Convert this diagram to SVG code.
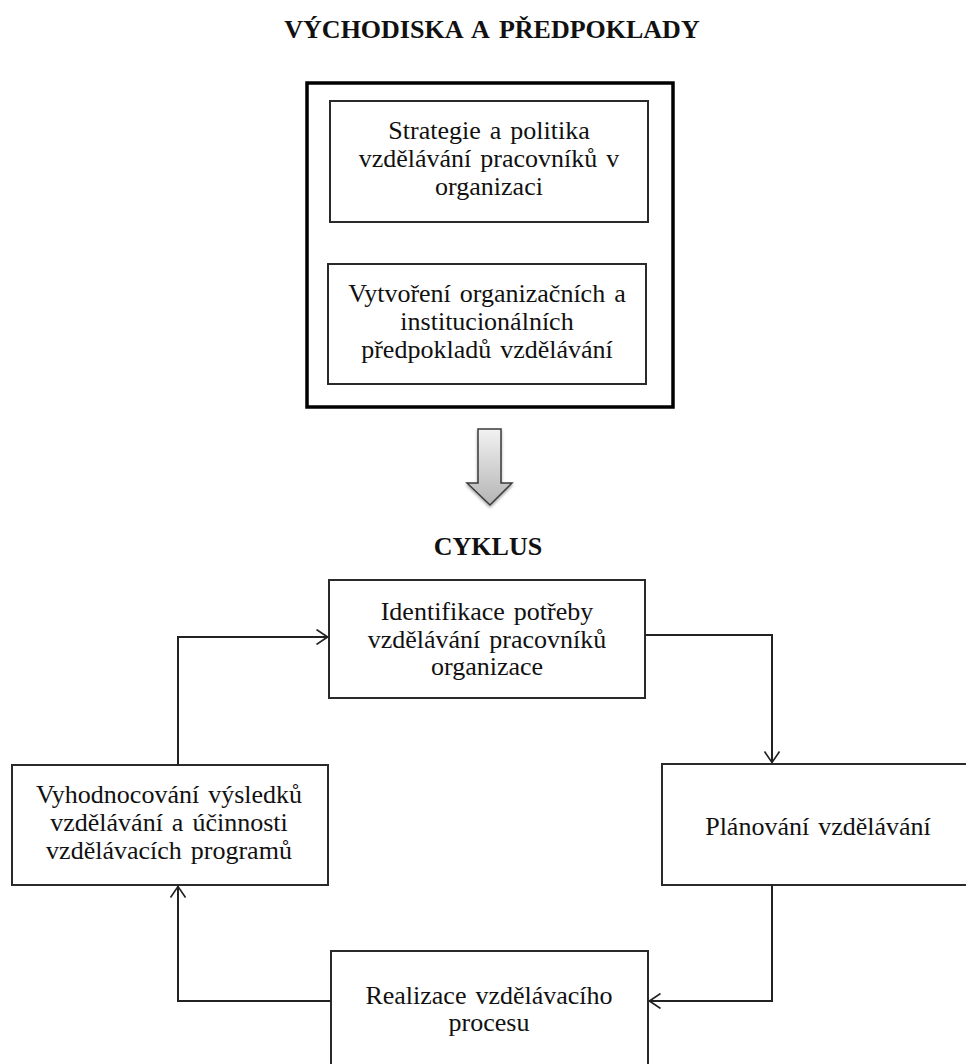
<svg xmlns="http://www.w3.org/2000/svg" width="966" height="1064" viewBox="0 0 966 1064">
  <style>
    .t { font-family: "Liberation Serif", "Times New Roman", serif; font-size: 26px; word-spacing: 2.5px; fill: #111; text-anchor: middle; }
    .h { font-family: "Liberation Serif", "Times New Roman", serif; font-size: 26px; word-spacing: 4px; font-weight: bold; fill: #111; text-anchor: middle; }
    .box { fill: #fff; stroke: #2a2a2a; stroke-width: 2; }
    .frame { fill: #fff; stroke: #000; stroke-width: 3.5; }
    .link { fill: none; stroke: #222; stroke-width: 2; marker-end: url(#open); }
  </style>
  <defs>
    <marker id="open" viewBox="0 0 12 16" refX="12" refY="8" markerWidth="12" markerHeight="16" markerUnits="userSpaceOnUse" orient="auto">
      <path d="M0.5,0.5 L11.5,8 L0.5,15.5" fill="none" stroke="#222" stroke-width="1.6"/>
    </marker>
    <linearGradient id="arrowFill" x1="0" y1="0" x2="0" y2="1">
      <stop offset="0" stop-color="#f2f2f2"/>
      <stop offset="1" stop-color="#b4b4b4"/>
    </linearGradient>
    <filter id="soft" x="-30%" y="-30%" width="160%" height="160%">
      <feGaussianBlur in="SourceAlpha" stdDeviation="1.5"/>
      <feOffset dx="0" dy="2" result="b"/>
      <feComponentTransfer><feFuncA type="linear" slope="0.35"/></feComponentTransfer>
      <feMerge><feMergeNode/><feMergeNode in="SourceGraphic"/></feMerge>
    </filter>
  </defs>

  <rect width="966" height="1064" fill="#fff"/>

  <!-- heading of the upper section -->
  <text class="h" x="492" y="38">VÝCHODISKA A PŘEDPOKLADY</text>

  <!-- frame holding the preconditions -->
  <g id="preconditions">
    <rect class="frame" x="307" y="83" width="366" height="324"/>
  </g>
  <g id="strategy">
    <rect class="box" x="330" y="101" width="318" height="121"/>
    <text class="t" x="489" y="139">Strategie a politika</text>
    <text class="t" x="489" y="167">vzdělávání pracovníků v</text>
    <text class="t" x="489" y="195">organizaci</text>
  </g>
  <g id="institutions">
    <rect class="box" x="328" y="264" width="318" height="120"/>
    <text class="t" x="487" y="302">Vytvoření organizačních a</text>
    <text class="t" x="487" y="330">institucionálních</text>
    <text class="t" x="487" y="358">předpokladů vzdělávání</text>
  </g>

  <!-- block arrow down to the cycle -->
  <g id="transition">
    <polygon points="478,429 501,429 501,483 512,483 490,505 467,483 478,483" fill="url(#arrowFill)" stroke="#3a3a3a" stroke-width="1.5" stroke-linejoin="miter" filter="url(#soft)"/>
  </g>

  <text class="h" x="488" y="555">CYKLUS</text>

  <!-- cycle steps -->
  <g id="identification">
    <rect class="box" x="329" y="580" width="316" height="118"/>
    <text class="t" x="487" y="620">Identifikace potřeby</text>
    <text class="t" x="487" y="647.5">vzdělávání pracovníků</text>
    <text class="t" x="487" y="675">organizace</text>
  </g>
  <g id="evaluation">
    <rect class="box" x="12" y="765" width="316" height="120"/>
    <text class="t" x="169" y="803">Vyhodnocování výsledků</text>
    <text class="t" x="169" y="831">vzdělávání a účinnosti</text>
    <text class="t" x="169" y="859">vzdělávacích programů</text>
  </g>
  <g id="planning">
    <rect class="box" x="662" y="764" width="320" height="121"/>
    <text class="t" x="818" y="835">Plánování vzdělávání</text>
  </g>
  <g id="delivery">
    <rect class="box" x="331" y="951" width="317" height="130"/>
    <text class="t" x="489" y="1004">Realizace vzdělávacího</text>
    <text class="t" x="489" y="1031">procesu</text>
  </g>

  <!-- connectors of the cycle -->
  <g id="connectors">
    <path class="link" d="M645,635 H772 V763"/>
    <path class="link" d="M772,885 V1001 H649"/>
    <path class="link" d="M331,1001 H178 V886"/>
    <path class="link" d="M178,765 V637 H328"/>
  </g>
</svg>
